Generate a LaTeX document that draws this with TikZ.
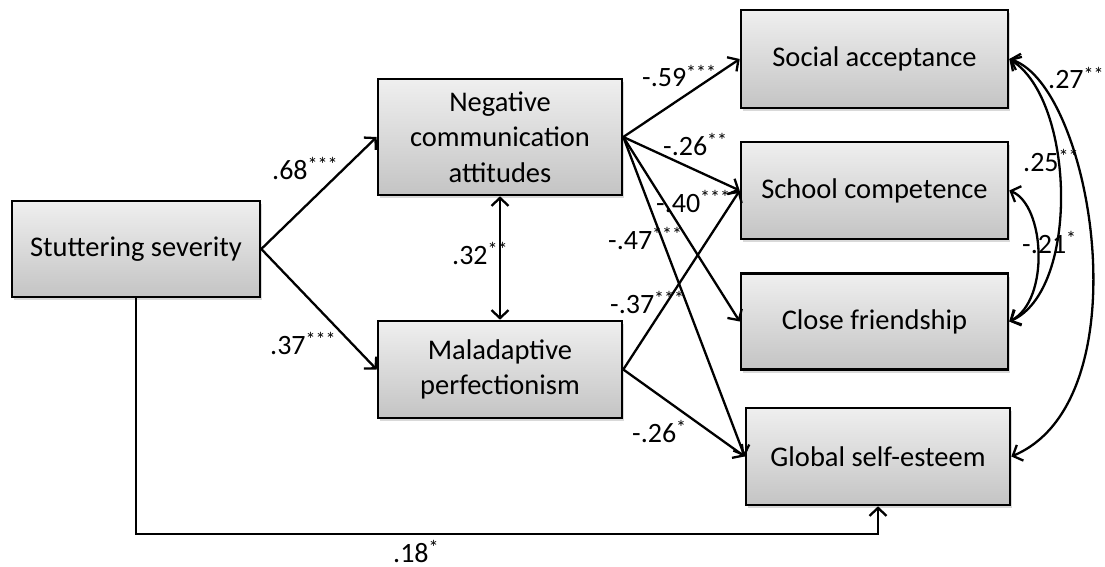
\documentclass[tikz,border=0pt]{standalone}
\usepackage{fontspec}
\setmainfont{Carlito}
\usetikzlibrary{arrows.meta,shadows,calc}
\definecolor{boxtop}{HTML}{EFEFEF}
\definecolor{boxbot}{HTML}{C4C4C4}
% significance stars, set small and raised
\newcommand{\sig}[1]{\raisebox{7.5pt}{\fontsize{20}{20}\selectfont #1}}

\begin{document}
\begin{tikzpicture}[x=1pt,y=-1pt,
  var/.style={draw=black, line width=2.6pt, rectangle, inner sep=0pt,
    top color=boxtop, bottom color=boxbot, align=center,
    font=\fontsize{28.5}{35.5}\selectfont,
    drop shadow={shadow xshift=2pt, shadow yshift=-3pt, opacity=0.3}},
  arr/.style={line width=2.3pt, -{Straight Barb[length=8pt,width=17pt]}},
  dbl/.style={line width=2.3pt, {Straight Barb[length=8pt,width=17pt]}-{Straight Barb[length=8pt,width=17pt]}},
  coef/.style={anchor=base west, inner sep=0pt, font=\fontsize{28}{30}\selectfont}]

\useasboundingbox (0,0) rectangle (1105,567);

% variables
\node[var, minimum width=248pt, minimum height=96pt] (ss) at (136,249) {Stuttering severity};
\node[var, minimum width=244pt, minimum height=116pt] (nca) at (500,137) {Negative\\communication\\attitudes};
\node[var, minimum width=244pt, minimum height=97pt] (mp) at (500,369.5) {Maladaptive\\perfectionism};
\node[var, minimum width=267pt, minimum height=98pt] (sa) at (874.5,59) {Social acceptance};
\node[var, minimum width=267pt, minimum height=97pt] (sc) at (874.5,190.5) {School competence};
\node[var, minimum width=267pt, minimum height=96pt] (cf) at (874.5,321.5) {Close friendship};
\node[var, minimum width=264pt, minimum height=97pt] (gse) at (878,456.5) {Global self-esteem};

% paths
\draw[arr] (ss.east) -- (nca.west);
\draw[arr] (ss.east) -- (mp.west);
\draw[dbl] (nca.south) -- (mp.north);
\draw[arr] (nca.east) -- (sa.west);
\draw[arr] (nca.east) -- (sc.west);
\draw[arr] (nca.east) -- (cf.west);
\draw[arr] (nca.east) -- (gse.west);
\draw[arr] (mp.east) -- (sc.west);
\draw[arr] (mp.east) -- (gse.west);
\draw[arr] (ss.south) |- ($(gse.south)+(0,28)$) -- (gse.south);

% correlations among outcomes
\draw[dbl] (sa.east) .. controls (1092,85) and (1145,400) .. (gse.east);
\draw[dbl] (sa.east) .. controls (1075,100) and (1080,290) .. (cf.east);
\draw[dbl] (sc.east) .. controls (1045,205) and (1050,300) .. (cf.east);

% coefficients
\node[coef] (c68) at (272,179) {.68\sig{***}};
\node[coef] (c37) at (270,354) {.37\sig{***}};
\node[coef] (c32) at (452,264) {.32\sig{**}};
\node[coef] (c59) at (642,87) {-.59\sig{***}};
\node[coef] (c26a) at (663,155) {-.26\sig{**}};
\node[coef] (c40) at (656,212) {-.40\sig{***}};
\node[coef] (c47) at (608,249) {-.47\sig{***}};
\node[coef] (c37b) at (610,313) {-.37\sig{***}};
\node[coef] (c26b) at (632,442) {-.26\sig{*}};
\node[coef] (c18) at (393,562) {.18\sig{*}};
\node[coef] (c27) at (1048,89) {.27\sig{**}};
\node[coef] (c25) at (1023,171) {.25\sig{**}};
\node[coef] (c21) at (1022,253) {-.21\sig{*}};
\end{tikzpicture}
\end{document}
